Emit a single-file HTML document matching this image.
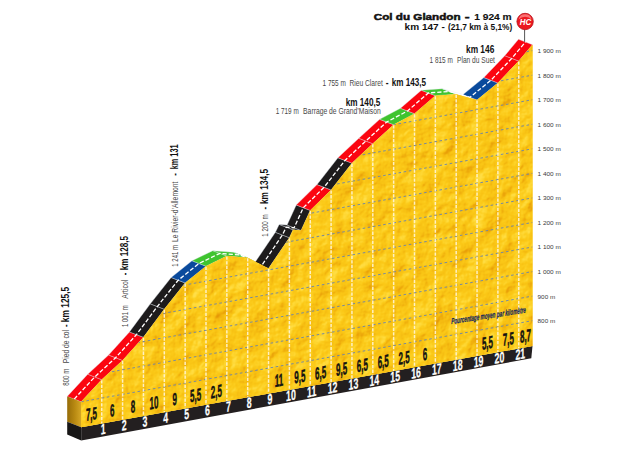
<!DOCTYPE html>
<html lang="fr"><head><meta charset="utf-8"><title>Col du Glandon - 1 924 m</title>
<style>html,body{margin:0;padding:0;background:#fff}svg{display:block;font-family:"Liberation Sans",sans-serif}.b{font-weight:bold}</style></head><body>
<svg width="620" height="450" viewBox="0 0 620 450">
<defs>
<linearGradient id="side" x1="0" y1="0" x2="1" y2="0"><stop offset="0" stop-color="#966c08"/><stop offset="0.55" stop-color="#b98a12"/><stop offset="1" stop-color="#d4a626"/></linearGradient>
<filter id="tex" x="0" y="0" width="100%" height="100%" color-interpolation-filters="sRGB"><feTurbulence type="fractalNoise" baseFrequency="0.05" numOctaves="4" seed="4" result="n"/><feDiffuseLighting in="n" surfaceScale="3.5" diffuseConstant="1" lighting-color="#ffffff" result="l"><feDistantLight azimuth="225" elevation="45"/></feDiffuseLighting><feComponentTransfer in="l" result="c"><feFuncR type="table" tableValues=".90 .90 .91 .92 .94 .96 .975 .985 .99 1 1"/><feFuncG type="table" tableValues=".58 .58 .61 .645 .685 .73 .765 .785 .81 .85 .885"/><feFuncB type="table" tableValues=".02 .02 .03 .04 .05 .065 .08 .09 .13 .21 .32"/></feComponentTransfer><feComposite in="c" in2="SourceGraphic" operator="in"/></filter>
<clipPath id="fc"><polygon points="81.2,401.8 101.75,379.65 122.6,360.44 143.45,337.31 164.3,309.26 185.15,282.94 206,266.18 226.85,256.06 247.7,257.72 268.55,268.47 289.4,237.72 293.15,229.81 301.08,230.47 310.25,210.41 331.1,189.98 351.95,163.16 372.8,143.71 393.65,124.75 414.5,113.65 435.35,95.67 456.2,94.14 477.05,99.97 497.9,82.97 518.75,61.07 532.5,44.7 532.5,346.05 81.2,427.2"/></clipPath>
</defs>
<rect width="620" height="450" fill="#fff"/>
<g stroke="#dde5ee" stroke-opacity="0.6" stroke-width="0.6" stroke-linejoin="round">
<polygon points="81.2,401.8 101.75,379.65 87.75,374.25 67.2,396.4" fill="#fb0510"/>
<polygon points="101.75,379.65 122.6,360.44 108.6,355.04 87.75,374.25" fill="#fb0510"/>
<polygon points="122.6,360.44 143.45,337.31 129.45,331.91 108.6,355.04" fill="#fb0510"/>
<polygon points="143.45,337.31 164.3,309.26 150.3,303.86 129.45,331.91" fill="#1d1b1c"/>
<polygon points="164.3,309.26 185.15,282.94 171.15,277.54 150.3,303.86" fill="#1d1b1c"/>
<polygon points="185.15,282.94 206,266.18 192,260.78 171.15,277.54" fill="#0a4a9c"/>
<polygon points="206,266.18 226.85,256.06 212.85,250.66 192,260.78" fill="#3fc42f"/>
<polygon points="226.85,256.06 247.7,257.72 233.7,252.32 212.85,250.66" fill="#3fc42f"/>
<polygon points="247.7,257.72 268.55,268.47 254.55,263.07 233.7,252.32" fill="#3fc42f"/>
<polygon points="268.55,268.47 289.4,237.72 275.4,232.32 254.55,263.07" fill="#1d1b1c"/>
<polygon points="289.4,237.72 293.15,229.81 279.15,224.41 275.4,232.32" fill="#1d1b1c"/>
<polygon points="293.15,229.81 301.08,230.47 287.08,225.07 279.15,224.41" fill="#1d1b1c"/>
<polygon points="301.08,230.47 310.25,210.41 296.25,205.01 287.08,225.07" fill="#1d1b1c"/>
<polygon points="310.25,210.41 331.1,189.98 317.1,184.58 296.25,205.01" fill="#fb0510"/>
<polygon points="331.1,189.98 351.95,163.16 337.95,157.76 317.1,184.58" fill="#1d1b1c"/>
<polygon points="351.95,163.16 372.8,143.71 358.8,138.31 337.95,157.76" fill="#fb0510"/>
<polygon points="372.8,143.71 393.65,124.75 379.65,119.35 358.8,138.31" fill="#fb0510"/>
<polygon points="393.65,124.75 414.5,113.65 400.5,108.25 379.65,119.35" fill="#3fc42f"/>
<polygon points="414.5,113.65 435.35,95.67 421.35,90.27 400.5,108.25" fill="#fb0510"/>
<polygon points="435.35,95.67 456.2,94.14 442.2,88.74 421.35,90.27" fill="#3fc42f"/>
<polygon points="456.2,94.14 477.05,99.97 463.05,94.57 442.2,88.74" fill="#ffffff"/>
<polygon points="477.05,99.97 497.9,82.97 483.9,77.57 463.05,94.57" fill="#0a4a9c"/>
<polygon points="497.9,82.97 518.75,61.07 504.75,55.67 483.9,77.57" fill="#fb0510"/>
<polygon points="518.75,61.07 532.5,44.7 518.5,39.3 504.75,55.67" fill="#fb0510"/>
</g>
<polyline points="74.2,399.1 94.75,376.95 115.6,357.74 136.45,334.61 157.3,306.56 178.15,280.24 199,263.48 219.85,253.36 240.7,255.02 261.55,265.77 282.4,235.02 286.15,227.11 294.08,227.77 303.25,207.71 324.1,187.28 344.95,160.46 365.8,141.01 386.65,122.05 407.5,110.95 428.35,92.97 449.2,91.44 470.05,97.27 490.9,80.27 511.75,58.37 525.5,42" fill="none" stroke="#fff" stroke-width="1.3" stroke-dasharray="4.2,2"/>
<polygon points="81.2,401.8 67.2,396.4 67.2,421.8 81.2,427.2" fill="url(#side)"/>
<polygon points="81.2,427.2 67.2,421.8 67.2,434.4 81.2,440.4" fill="#171616"/>
<polygon points="81.2,427.2 532.5,346.05 531.3,358.25 81.2,440.4" fill="#231f20"/>
<polygon points="81.2,401.8 101.75,379.65 122.6,360.44 143.45,337.31 164.3,309.26 185.15,282.94 206,266.18 226.85,256.06 247.7,257.72 268.55,268.47 289.4,237.72 293.15,229.81 301.08,230.47 310.25,210.41 331.1,189.98 351.95,163.16 372.8,143.71 393.65,124.75 414.5,113.65 435.35,95.67 456.2,94.14 477.05,99.97 497.9,82.97 518.75,61.07 532.5,44.7 532.5,346.05 81.2,427.2" fill="#fac71a"/>
<polygon points="81.2,401.8 101.75,379.65 122.6,360.44 143.45,337.31 164.3,309.26 185.15,282.94 206,266.18 226.85,256.06 247.7,257.72 268.55,268.47 289.4,237.72 293.15,229.81 301.08,230.47 310.25,210.41 331.1,189.98 351.95,163.16 372.8,143.71 393.65,124.75 414.5,113.65 435.35,95.67 456.2,94.14 477.05,99.97 497.9,82.97 518.75,61.07 532.5,44.7 532.5,346.05 81.2,427.2" fill="#fac71a" filter="url(#tex)"/>
<g clip-path="url(#fc)">
<g stroke="#6f86a6" stroke-width="0.95" stroke-dasharray="2.6,2.6" fill="none">
<line x1="81.2" y1="401.8" x2="532.5" y2="320.64"/>
<line x1="81.2" y1="377.25" x2="532.5" y2="296.09"/>
<line x1="81.2" y1="352.7" x2="532.5" y2="271.54"/>
<line x1="81.2" y1="328.15" x2="532.5" y2="246.99"/>
<line x1="81.2" y1="303.6" x2="532.5" y2="222.44"/>
<line x1="81.2" y1="279.05" x2="532.5" y2="197.89"/>
<line x1="81.2" y1="254.5" x2="532.5" y2="173.34"/>
<line x1="81.2" y1="229.95" x2="532.5" y2="148.79"/>
<line x1="81.2" y1="205.4" x2="532.5" y2="124.24"/>
<line x1="81.2" y1="180.85" x2="532.5" y2="99.69"/>
<line x1="81.2" y1="156.3" x2="532.5" y2="75.14"/>
<line x1="81.2" y1="131.75" x2="532.5" y2="50.59"/>
</g>
<g stroke="#fff4d6" stroke-opacity="0.9" stroke-width="1.5" stroke-dasharray="3.3,1.3">
<line x1="101.75" y1="380.15" x2="101.75" y2="423.5"/>
<line x1="122.6" y1="360.94" x2="122.6" y2="419.76"/>
<line x1="143.45" y1="337.81" x2="143.45" y2="416.01"/>
<line x1="164.3" y1="309.76" x2="164.3" y2="412.26"/>
<line x1="185.15" y1="283.44" x2="185.15" y2="408.51"/>
<line x1="206" y1="266.68" x2="206" y2="404.76"/>
<line x1="226.85" y1="256.56" x2="226.85" y2="401.01"/>
<line x1="247.7" y1="258.22" x2="247.7" y2="397.26"/>
<line x1="268.55" y1="268.97" x2="268.55" y2="393.51"/>
<line x1="289.4" y1="238.22" x2="289.4" y2="389.76"/>
<line x1="310.25" y1="210.91" x2="310.25" y2="386.02"/>
<line x1="331.1" y1="190.48" x2="331.1" y2="382.27"/>
<line x1="351.95" y1="163.66" x2="351.95" y2="378.52"/>
<line x1="372.8" y1="144.21" x2="372.8" y2="374.77"/>
<line x1="393.65" y1="125.25" x2="393.65" y2="371.02"/>
<line x1="414.5" y1="114.15" x2="414.5" y2="367.27"/>
<line x1="435.35" y1="96.17" x2="435.35" y2="363.52"/>
<line x1="456.2" y1="94.64" x2="456.2" y2="359.77"/>
<line x1="477.05" y1="100.47" x2="477.05" y2="356.02"/>
<line x1="497.9" y1="83.47" x2="497.9" y2="352.27"/>
<line x1="518.75" y1="61.57" x2="518.75" y2="348.53"/>
</g></g>
<text transform="translate(91.47 419.95) skewY(-10.19) scale(0.46 1)" font-size="17.4" class="b" fill="#111" text-anchor="middle" stroke="#111" stroke-width="0.5">7,5</text>
<text transform="translate(112.18 416.23) skewY(-10.19) scale(0.46 1)" font-size="17.4" class="b" fill="#111" text-anchor="middle" stroke="#111" stroke-width="0.5">6</text>
<text transform="translate(133.03 412.48) skewY(-10.19) scale(0.46 1)" font-size="17.4" class="b" fill="#111" text-anchor="middle" stroke="#111" stroke-width="0.5">8</text>
<text transform="translate(153.88 408.73) skewY(-10.19) scale(0.46 1)" font-size="17.4" class="b" fill="#111" text-anchor="middle" stroke="#111" stroke-width="0.5">10</text>
<text transform="translate(174.73 404.98) skewY(-10.19) scale(0.46 1)" font-size="17.4" class="b" fill="#111" text-anchor="middle" stroke="#111" stroke-width="0.5">9</text>
<text transform="translate(195.57 401.23) skewY(-10.19) scale(0.46 1)" font-size="17.4" class="b" fill="#111" text-anchor="middle" stroke="#111" stroke-width="0.5">5,5</text>
<text transform="translate(216.43 397.49) skewY(-10.19) scale(0.46 1)" font-size="17.4" class="b" fill="#111" text-anchor="middle" stroke="#111" stroke-width="0.5">2,5</text>
<text transform="translate(278.98 386.24) skewY(-10.19) scale(0.46 1)" font-size="17.4" class="b" fill="#111" text-anchor="middle" stroke="#111" stroke-width="0.5">11</text>
<text transform="translate(299.82 382.49) skewY(-10.19) scale(0.46 1)" font-size="17.4" class="b" fill="#111" text-anchor="middle" stroke="#111" stroke-width="0.5">9,5</text>
<text transform="translate(320.68 378.74) skewY(-10.19) scale(0.46 1)" font-size="17.4" class="b" fill="#111" text-anchor="middle" stroke="#111" stroke-width="0.5">6,5</text>
<text transform="translate(341.53 374.99) skewY(-10.19) scale(0.46 1)" font-size="17.4" class="b" fill="#111" text-anchor="middle" stroke="#111" stroke-width="0.5">9,5</text>
<text transform="translate(362.38 371.24) skewY(-10.19) scale(0.46 1)" font-size="17.4" class="b" fill="#111" text-anchor="middle" stroke="#111" stroke-width="0.5">6,5</text>
<text transform="translate(383.23 367.49) skewY(-10.19) scale(0.46 1)" font-size="17.4" class="b" fill="#111" text-anchor="middle" stroke="#111" stroke-width="0.5">6,5</text>
<text transform="translate(404.07 363.74) skewY(-10.19) scale(0.46 1)" font-size="17.4" class="b" fill="#111" text-anchor="middle" stroke="#111" stroke-width="0.5">2,5</text>
<text transform="translate(424.93 360) skewY(-10.19) scale(0.46 1)" font-size="17.4" class="b" fill="#111" text-anchor="middle" stroke="#111" stroke-width="0.5">6</text>
<text transform="translate(487.48 348.75) skewY(-10.19) scale(0.46 1)" font-size="17.4" class="b" fill="#111" text-anchor="middle" stroke="#111" stroke-width="0.5">5,5</text>
<text transform="translate(508.32 345) skewY(-10.19) scale(0.46 1)" font-size="17.4" class="b" fill="#111" text-anchor="middle" stroke="#111" stroke-width="0.5">7,5</text>
<text transform="translate(525.5 341.91) skewY(-10.19) scale(0.46 1)" font-size="17.4" class="b" fill="#111" text-anchor="middle" stroke="#111" stroke-width="0.5">8,7</text>
<text transform="translate(103.25 434.04) skewY(-10.19) scale(0.6 1)" font-size="14.6" class="b" fill="#fff" text-anchor="middle" stroke="#fff" stroke-width="0.25">1</text>
<text transform="translate(124.1 430.29) skewY(-10.19) scale(0.6 1)" font-size="14.6" class="b" fill="#fff" text-anchor="middle" stroke="#fff" stroke-width="0.25">2</text>
<text transform="translate(144.95 426.54) skewY(-10.19) scale(0.6 1)" font-size="14.6" class="b" fill="#fff" text-anchor="middle" stroke="#fff" stroke-width="0.25">3</text>
<text transform="translate(165.8 422.79) skewY(-10.19) scale(0.6 1)" font-size="14.6" class="b" fill="#fff" text-anchor="middle" stroke="#fff" stroke-width="0.25">4</text>
<text transform="translate(186.65 419.04) skewY(-10.19) scale(0.6 1)" font-size="14.6" class="b" fill="#fff" text-anchor="middle" stroke="#fff" stroke-width="0.25">5</text>
<text transform="translate(207.5 415.29) skewY(-10.19) scale(0.6 1)" font-size="14.6" class="b" fill="#fff" text-anchor="middle" stroke="#fff" stroke-width="0.25">6</text>
<text transform="translate(228.35 411.54) skewY(-10.19) scale(0.6 1)" font-size="14.6" class="b" fill="#fff" text-anchor="middle" stroke="#fff" stroke-width="0.25">7</text>
<text transform="translate(249.2 407.79) skewY(-10.19) scale(0.6 1)" font-size="14.6" class="b" fill="#fff" text-anchor="middle" stroke="#fff" stroke-width="0.25">8</text>
<text transform="translate(270.05 404.04) skewY(-10.19) scale(0.6 1)" font-size="14.6" class="b" fill="#fff" text-anchor="middle" stroke="#fff" stroke-width="0.25">9</text>
<text transform="translate(290.9 400.29) skewY(-10.19) scale(0.6 1)" font-size="14.6" class="b" fill="#fff" text-anchor="middle" stroke="#fff" stroke-width="0.25">10</text>
<text transform="translate(311.75 396.55) skewY(-10.19) scale(0.6 1)" font-size="14.6" class="b" fill="#fff" text-anchor="middle" stroke="#fff" stroke-width="0.25">11</text>
<text transform="translate(332.6 392.8) skewY(-10.19) scale(0.6 1)" font-size="14.6" class="b" fill="#fff" text-anchor="middle" stroke="#fff" stroke-width="0.25">12</text>
<text transform="translate(353.45 389.05) skewY(-10.19) scale(0.6 1)" font-size="14.6" class="b" fill="#fff" text-anchor="middle" stroke="#fff" stroke-width="0.25">13</text>
<text transform="translate(374.3 385.3) skewY(-10.19) scale(0.6 1)" font-size="14.6" class="b" fill="#fff" text-anchor="middle" stroke="#fff" stroke-width="0.25">14</text>
<text transform="translate(395.15 381.55) skewY(-10.19) scale(0.6 1)" font-size="14.6" class="b" fill="#fff" text-anchor="middle" stroke="#fff" stroke-width="0.25">15</text>
<text transform="translate(416 377.8) skewY(-10.19) scale(0.6 1)" font-size="14.6" class="b" fill="#fff" text-anchor="middle" stroke="#fff" stroke-width="0.25">16</text>
<text transform="translate(436.85 374.05) skewY(-10.19) scale(0.6 1)" font-size="14.6" class="b" fill="#fff" text-anchor="middle" stroke="#fff" stroke-width="0.25">17</text>
<text transform="translate(457.7 370.3) skewY(-10.19) scale(0.6 1)" font-size="14.6" class="b" fill="#fff" text-anchor="middle" stroke="#fff" stroke-width="0.25">18</text>
<text transform="translate(478.55 366.55) skewY(-10.19) scale(0.6 1)" font-size="14.6" class="b" fill="#fff" text-anchor="middle" stroke="#fff" stroke-width="0.25">19</text>
<text transform="translate(499.4 362.8) skewY(-10.19) scale(0.6 1)" font-size="14.6" class="b" fill="#fff" text-anchor="middle" stroke="#fff" stroke-width="0.25">20</text>
<text transform="translate(520.25 359.06) skewY(-10.19) scale(0.6 1)" font-size="14.6" class="b" fill="#fff" text-anchor="middle" stroke="#fff" stroke-width="0.25">21</text>
<text transform="translate(451.2 324.1) skewY(-8.7)" font-size="8.3" class="b" font-style="italic" fill="#17295c" stroke="#17295c" stroke-width="0.25" textLength="74.6" lengthAdjust="spacingAndGlyphs">Pourcentage moyen par kilomètre</text>
<g font-size="5.4" fill="#3a3a3a">
<text x="537.6" y="53" textLength="23.2" lengthAdjust="spacingAndGlyphs">1 900 m</text>
<text x="537.6" y="77.55" textLength="23.2" lengthAdjust="spacingAndGlyphs">1 800 m</text>
<text x="537.6" y="102.1" textLength="23.2" lengthAdjust="spacingAndGlyphs">1 700 m</text>
<text x="537.6" y="126.65" textLength="23.2" lengthAdjust="spacingAndGlyphs">1 600 m</text>
<text x="537.6" y="151.2" textLength="23.2" lengthAdjust="spacingAndGlyphs">1 500 m</text>
<text x="537.6" y="175.75" textLength="23.2" lengthAdjust="spacingAndGlyphs">1 400 m</text>
<text x="537.6" y="200.3" textLength="23.2" lengthAdjust="spacingAndGlyphs">1 300 m</text>
<text x="537.6" y="224.85" textLength="23.2" lengthAdjust="spacingAndGlyphs">1 200 m</text>
<text x="537.6" y="249.4" textLength="23.2" lengthAdjust="spacingAndGlyphs">1 100 m</text>
<text x="537.6" y="273.95" textLength="23.2" lengthAdjust="spacingAndGlyphs">1 000 m</text>
<text x="537.6" y="298.5" textLength="17.6" lengthAdjust="spacingAndGlyphs">900 m</text>
<text x="537.6" y="323.05" textLength="17.6" lengthAdjust="spacingAndGlyphs">800 m</text>
</g>
<line x1="524.6" y1="29.5" x2="524.6" y2="41.8" stroke="#2b2b2b" stroke-width="0.8"/>
<circle cx="525.1" cy="21.5" r="8.2" fill="#ec1820" stroke="#b50f18" stroke-width="0.8"/>
<path d="M518.6 19.6 A6.6 6.6 0 0 1 531.6 19.6 A9 9 0 0 0 518.6 19.6Z" fill="#ff8f8f" fill-opacity="0.75"/>
<text x="525.4" y="24.5" font-size="8.4" class="b" font-style="italic" fill="#fff" text-anchor="middle" textLength="11.4" lengthAdjust="spacingAndGlyphs">HC</text>
<text x="373.8" y="19.7" font-size="9.7" class="b" fill="#111" textLength="86.8" lengthAdjust="spacingAndGlyphs" stroke="#111" stroke-width="0.5">Col du Glandon</text>
<text x="464.8" y="19.7" font-size="9.7" class="b" fill="#111" textLength="4.8" lengthAdjust="spacingAndGlyphs" stroke="#111" stroke-width="0.5">-</text>
<text x="474.2" y="19.7" font-size="9.7" class="b" fill="#111" textLength="37.5" lengthAdjust="spacingAndGlyphs" stroke="#111" stroke-width="0.15">1 924 m</text>
<text x="404.6" y="30.4" font-size="8.7" class="b" fill="#111" textLength="40.2" lengthAdjust="spacingAndGlyphs">km 147 -</text>
<text x="447.9" y="30.4" font-size="8.9" class="b" fill="#111" textLength="64.4" lengthAdjust="spacingAndGlyphs">(21,7 km à 5,1%)</text>
<text x="466" y="53.3" font-size="11.2" class="b" fill="#111" textLength="28.3" lengthAdjust="spacingAndGlyphs">km 146</text>
<text x="429.6" y="62.6" font-size="8.3" fill="#484848" textLength="23.2" lengthAdjust="spacingAndGlyphs">1 815 m</text>
<text x="457" y="62.6" font-size="8.3" fill="#484848" textLength="37.9" lengthAdjust="spacingAndGlyphs">Plan du Suet</text>
<text x="322.5" y="85.5" font-size="8.3" fill="#484848" textLength="23.3" lengthAdjust="spacingAndGlyphs">1 755 m</text>
<text x="349.5" y="85.5" font-size="8.3" fill="#484848" textLength="33.3" lengthAdjust="spacingAndGlyphs">Rieu Claret</text>
<text x="385.8" y="85.5" font-size="11.2" class="b" fill="#111" textLength="2.8" lengthAdjust="spacingAndGlyphs">-</text>
<text x="391.8" y="85.5" font-size="11.2" class="b" fill="#111" textLength="34.2" lengthAdjust="spacingAndGlyphs">km 143,5</text>
<text x="345.7" y="106.2" font-size="11.2" class="b" fill="#111" textLength="34.6" lengthAdjust="spacingAndGlyphs">km 140,5</text>
<text x="275.7" y="114" font-size="8.3" fill="#484848" textLength="23" lengthAdjust="spacingAndGlyphs">1 719 m</text>
<text x="303.1" y="114" font-size="8.3" fill="#484848" textLength="77.6" lengthAdjust="spacingAndGlyphs">Barrage de Grand’Maison</text>
<g transform="translate(69.3 385.8) rotate(-90)"><text x="0" y="0" font-size="8.3" fill="#484848" textLength="17.3" lengthAdjust="spacingAndGlyphs">800 m</text><text x="22.5" y="0" font-size="8.3" fill="#484848" textLength="33.3" lengthAdjust="spacingAndGlyphs">Pied de col</text><text x="58.8" y="0" font-size="11.2" class="b" fill="#111" textLength="2.6" lengthAdjust="spacingAndGlyphs">-</text><text x="63.6" y="0" font-size="11.2" class="b" fill="#111" textLength="35.5" lengthAdjust="spacingAndGlyphs">km 125,5</text></g>
<g transform="translate(127.7 327.1) rotate(-90)"><text x="0" y="0" font-size="8.3" fill="#484848" textLength="21.8" lengthAdjust="spacingAndGlyphs">1 001 m</text><text x="28.4" y="0" font-size="8.3" fill="#484848" textLength="18.9" lengthAdjust="spacingAndGlyphs">Articol</text><text x="51.8" y="0" font-size="11.2" class="b" fill="#111" textLength="2.6" lengthAdjust="spacingAndGlyphs">-</text><text x="56.9" y="0" font-size="11.2" class="b" fill="#111" textLength="34.2" lengthAdjust="spacingAndGlyphs">km 128,5</text></g>
<g transform="translate(178.2 266.7) rotate(-90)"><text x="0" y="0" font-size="8.3" fill="#484848" textLength="21.7" lengthAdjust="spacingAndGlyphs">1 241 m</text><text x="24.7" y="0" font-size="8.3" fill="#484848" textLength="60.4" lengthAdjust="spacingAndGlyphs">Le Rivier-d’Allemont</text><text x="90.9" y="0" font-size="11.2" class="b" fill="#111" textLength="2.6" lengthAdjust="spacingAndGlyphs">-</text><text x="97.4" y="0" font-size="11.2" class="b" fill="#111" textLength="24.9" lengthAdjust="spacingAndGlyphs">km 131</text></g>
<g transform="translate(268.2 236.7) rotate(-90)"><text x="0" y="0" font-size="8.3" fill="#484848" textLength="22.3" lengthAdjust="spacingAndGlyphs">1 200 m</text><text x="27.2" y="0" font-size="11.2" class="b" fill="#111" textLength="2.6" lengthAdjust="spacingAndGlyphs">-</text><text x="32.7" y="0" font-size="11.2" class="b" fill="#111" textLength="35.1" lengthAdjust="spacingAndGlyphs">km 134,5</text></g>
</svg></body></html>
